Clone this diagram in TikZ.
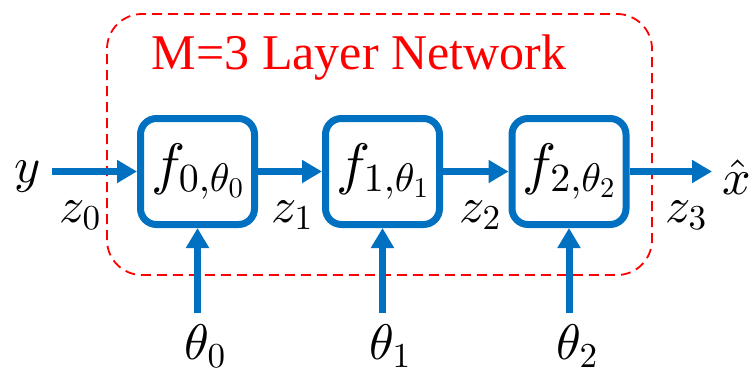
\documentclass[tikz,border=0pt]{standalone}
\usepackage{amsmath}
\usepackage[no-math]{fontspec}
\setmainfont{Liberation Serif}
\usetikzlibrary{arrows.meta}
% scalable math fonts
\DeclareFontShape{OML}{cmm}{m}{it}{<->cmmi10}{}
\DeclareFontShape{OT1}{cmr}{m}{n}{<->cmr10}{}
\DeclareFontShape{OMS}{cmsy}{m}{n}{<->cmsy10}{}

\begin{document}
\begin{tikzpicture}[x=1pt,y=1pt]

        % Define colors
        \definecolor{layerblue}{RGB}{0,112,192} % Blue boxes and arrows
        \definecolor{netred}{RGB}{255,0,0} % Red network frame

        % Styles for the boxes and arrows
        \tikzset{
            layerbox/.style={draw=layerblue, line width=7pt, rounded corners=16pt,
                minimum width=114pt, minimum height=106pt, fill=white, inner sep=0pt,
                font=\fontsize{57}{60}\selectfont},
            flow/.style={draw=layerblue, line width=7pt,
                -{Triangle[length=20pt,width=22pt]}},
            mathlabel/.style={font=\fontsize{50}{54}\selectfont, inner sep=0pt}
        }

        % Fix the picture size
        \useasboundingbox (0,0) rectangle (754,376);

        % Draw network frame
        \draw[netred, line width=1.8pt, dash pattern=on 10pt off 6pt, rounded corners=35pt]
            (107,101) rectangle (652,362);
        \node[text=netred, font=\fontsize{50}{54}\selectfont] (title) at (359,318) {M=3 Layer Network};

        % Draw layer boxes
        \node[layerbox] (f0) at (197.5,204.5) {$f_{0,\theta_0}$};
        \node[layerbox] (f1) at (382.5,204.5) {$f_{1,\theta_1}$};
        \node[layerbox] (f2) at (569,204.5) {$f_{2,\theta_2}$};

        % Input and output ends
        \coordinate (in) at (52,204.5);
        \coordinate (out) at (712,204.5);
        \coordinate (p0) at (197.5,63);
        \coordinate (p1) at (382.5,63);
        \coordinate (p2) at (569,63);

        % Draw horizontal arrows
        \draw[flow] (in) -- (f0);
        \draw[flow] (f0) -- (f1);
        \draw[flow] (f1) -- (f2);
        \draw[flow] (f2) -- (out);

        % Draw parameter arrows
        \draw[flow] (p0) -- (f0);
        \draw[flow] (p1) -- (f1);
        \draw[flow] (p2) -- (f2);

        % Labels
        \node[mathlabel] (y) at (28,199) {$y$};
        \node[mathlabel] (xhat) at (737,199) {$\hat{x}$};
        \node[mathlabel] (z0) at (80,161) {$z_0$};
        \node[mathlabel] (z1) at (292,161) {$z_1$};
        \node[mathlabel] (z2) at (480,161) {$z_2$};
        \node[mathlabel] (z3) at (686,161) {$z_3$};
        \node[mathlabel] (t0) at (205,30) {$\theta_0$};
        \node[mathlabel] (t1) at (390,30) {$\theta_1$};
        \node[mathlabel] (t2) at (577,30) {$\theta_2$};
        \end{tikzpicture}
\end{document}
